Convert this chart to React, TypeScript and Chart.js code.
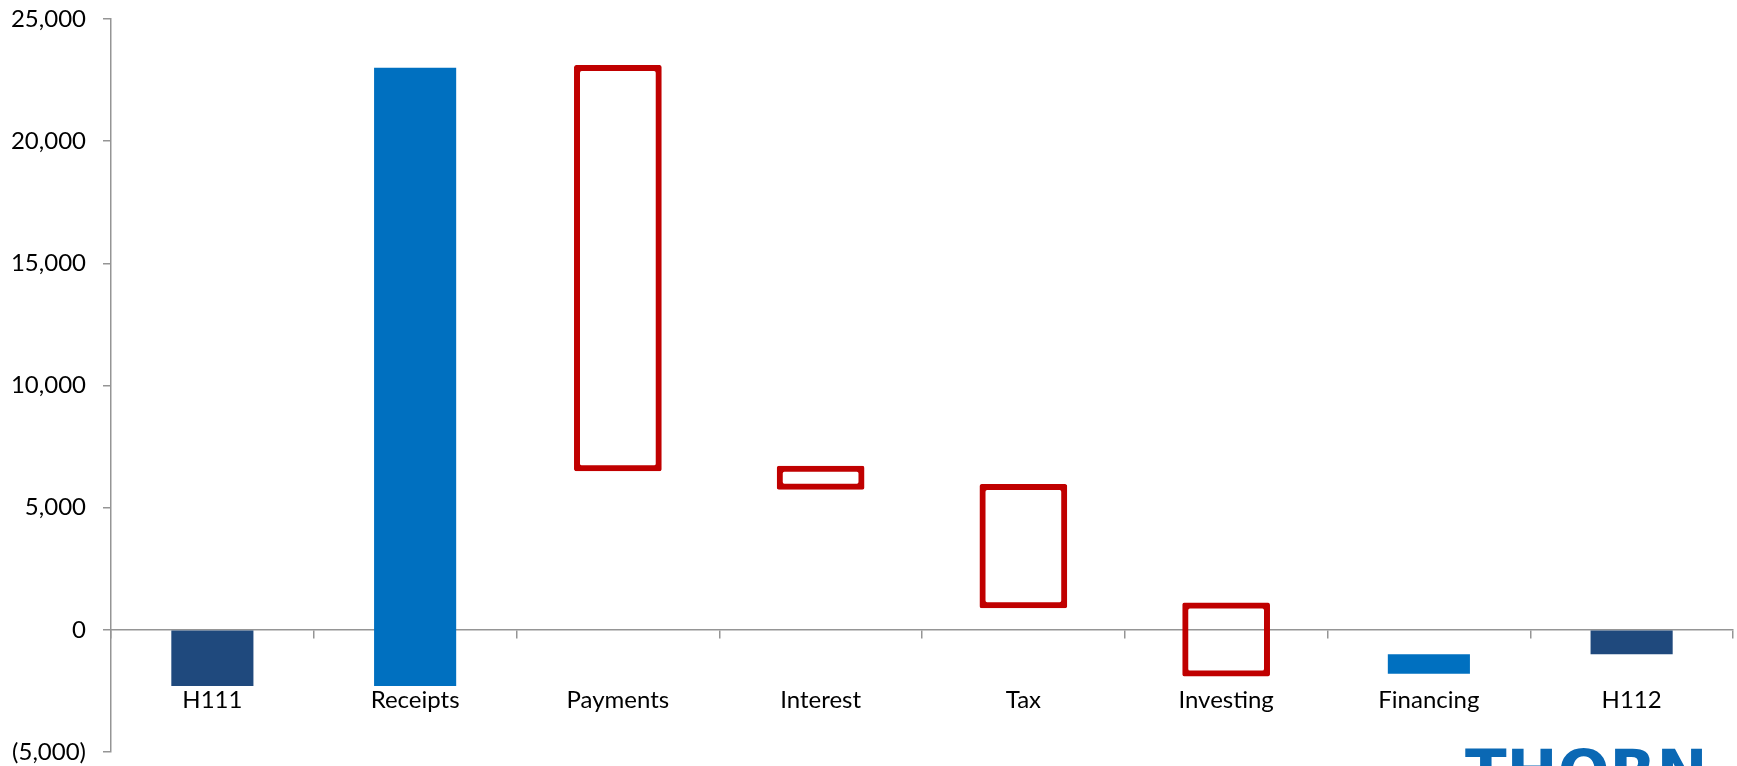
import React, { useEffect, useRef } from "react";
import { Chart, registerables } from "chart.js";

Chart.register(...registerables);

const categories = ["H111", "Receipts", "Payments", "Interest", "Tax", "Investing", "Financing", "H112"];
const barStart = [0, -2300, 23000, 6600, 5850, 1000, -1800, 0];
const barEnd = [-2300, 23000, 6600, 5850, 1000, -1800, -1000, -1000];
const barKind = ["total", "increase", "decrease", "decrease", "decrease", "decrease", "increase", "total"];
const yTicks = [-5000, 0, 5000, 10000, 15000, 20000, 25000];

const NAVY = "#1F497D";
const BLUE = "#0070C0";
const RED = "#C00000";
const AXIS = "#959595";
const FONT = { family: "Lato", size: 24 };

function fmt(v: number): string {
  const s = Math.abs(v).toLocaleString("en-US");
  return v < 0 ? `(${s})` : s;
}

export default function App() {
  const ref = useRef<HTMLCanvasElement | null>(null);

  useEffect(() => {
    if (!ref.current) return;
    const solid = categories.map((_, i) => (barKind[i] === "decrease" ? null : [barStart[i], barEnd[i]]));
    const hollow = categories.map((_, i) => (barKind[i] === "decrease" ? [barStart[i], barEnd[i]] : null));
    const solidColors = barKind.map((k) => (k === "total" ? NAVY : BLUE));

    const chart = new Chart(ref.current, {
      type: "bar",
      data: {
        labels: categories,
        datasets: [
          {
            data: solid as any,
            backgroundColor: solidColors,
            borderWidth: 0,
            inflateAmount: 0,
            grouped: false,
            categoryPercentage: 1,
            barPercentage: 0.405,
          },
          {
            data: hollow as any,
            backgroundColor: "rgba(0,0,0,0)",
            borderColor: RED,
            borderWidth: 0.4,
            borderSkipped: false,
            borderRadius: 2,
            inflateAmount: 2.8,
            grouped: false,
            categoryPercentage: 1,
            barPercentage: 0.405,
          },
        ],
      },
      options: {
        animation: false,
        responsive: true,
        maintainAspectRatio: false,
        layout: { padding: { top: 19, bottom: 14, right: 4, left: 0 } },
        plugins: { legend: { display: false }, tooltip: { enabled: false } },
        scales: {
          x: {
            position: { y: 0 } as any,
            grid: { offset: true, drawOnChartArea: false, tickLength: 8, color: AXIS, lineWidth: 1.5 },
            border: { color: AXIS, width: 1.5 },
            ticks: { padding: 48, font: FONT, color: "#000" },
          },
          y: {
            min: yTicks[0],
            max: yTicks[yTicks.length - 1],
            afterBuildTicks: (s: any) => {
              s.ticks = yTicks.map((v) => ({ value: v }));
            },
            afterFit: (s: any) => {
              s.width = 111;
              s.paddingTop = 0;
              s.paddingBottom = 0;
            },
            ticks: { padding: 17, font: FONT, color: "#000", callback: (v: any) => fmt(Number(v)) },
            grid: { drawOnChartArea: false, tickLength: 8, color: AXIS, lineWidth: 1.5 },
            border: { color: AXIS, width: 1.5 },
          },
        },
      },
    });
    return () => chart.destroy();
  }, []);

  return (
    <div style={{ position: "absolute", left: 0, top: 0, width: 1737, height: 766, overflow: "hidden", background: "#fff" }}>
      <div style={{ position: "absolute", left: 0, top: 0, width: 1737, height: 766 }}>
        <canvas ref={ref} />
      </div>
      <div
        style={{
          position: "absolute",
          left: 1465,
          top: 741,
          fontFamily: "'DejaVu Sans', sans-serif",
          fontWeight: 700,
          fontSize: 61,
          lineHeight: 1,
          color: "#0A68B4",
          letterSpacing: 0,
        }}
      >
        THORN
      </div>
    </div>
  );
}
